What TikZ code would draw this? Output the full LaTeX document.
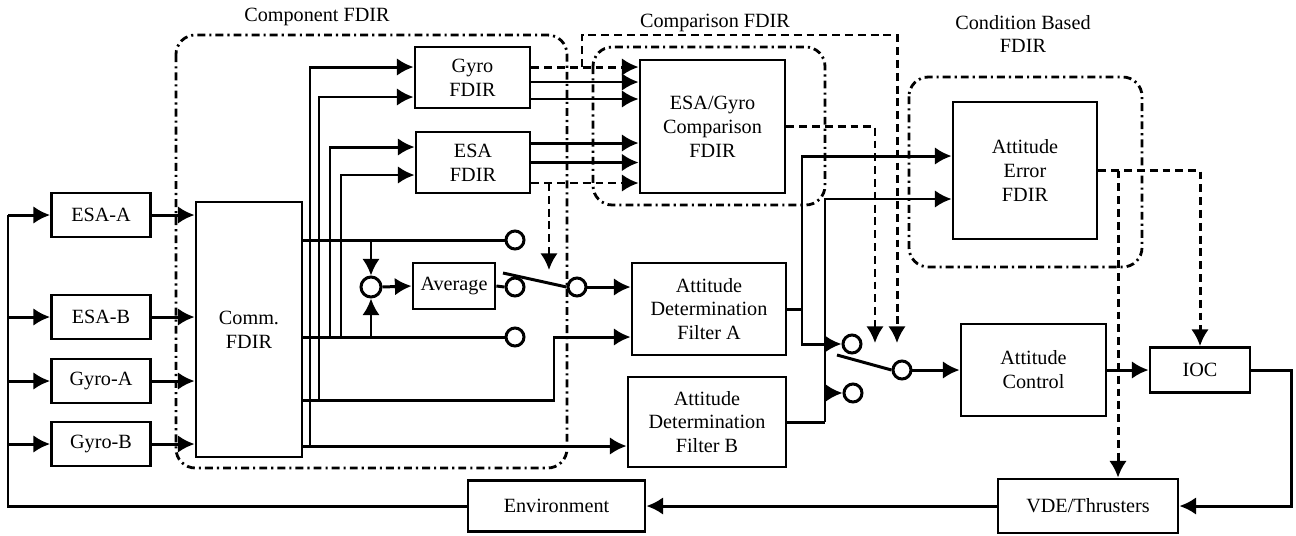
\documentclass[tikz,border=0pt]{standalone}
\usepackage{fontspec}
\setmainfont{Liberation Serif}
\usetikzlibrary{arrows.meta}

\tikzset{
  blk/.style={draw, line width=1.6pt, fill=white, align=center, inner sep=1pt,
    font=\fontsize{11.5}{13.6}\selectfont},
  sens/.style={blk, minimum width=1.98cm, minimum height=0.88cm},
  sw/.style={circle, draw, line width=1.7pt, fill=white, minimum size=0.36cm, inner sep=0pt},
  sig/.style={line width=1.7pt},
  dsh/.style={line width=1.7pt, dash pattern=on 4.5pt off 2.8pt},
  grp/.style={line width=1.6pt, dash pattern=on 4.5pt off 2.3pt on 1.2pt off 2.3pt,
    rounded corners=11pt},
  lbl/.style={align=center, font=\fontsize{11.5}{13.6}\selectfont}
}

\begin{document}
\begin{tikzpicture}[x=0.02cm, y=-0.02cm, >={Latex[length=9.5pt,width=10pt]}]
        \useasboundingbox (0,0) rectangle (1296,535);

        % Zonas FDIR
        \draw[grp] (176,35) rectangle (567,468);
        \draw[grp] (593,47) rectangle (825,205);
        \draw[grp] (909,77) rectangle (1142,267);
        \node[lbl] (lcomp) at (317,17) {Component FDIR};
        \node[lbl] (lcmp) at (715,23) {Comparison FDIR};
        \node[lbl] (lcond) at (1023,34) {Condition Based\\FDIR};

        % Sensores
        \node[sens] (esaA) at (101,215) {ESA-A};
        \node[sens] (esaB) at (101,317) {ESA-B};
        \node[sens] (gyroA) at (101,381) {Gyro-A};
        \node[sens] (gyroB) at (101,444) {Gyro-B};

        % Bloques
        \node[blk, minimum width=2.12cm, minimum height=5.1cm] (comm) at (249,329.5) {Comm.\\FDIR};
        \node[blk, minimum width=2.3cm, minimum height=1.22cm] (gyrof) at (472.5,77.5) {Gyro\\FDIR};
        \node[blk, minimum width=2.28cm, minimum height=1.22cm] (esaf) at (473,162.5) {ESA\\FDIR};
        \node[blk, minimum width=1.64cm, minimum height=0.92cm] (avg) at (454,286) {Average};
        \node[blk, minimum width=2.9cm, minimum height=2.66cm] (cmp) at (712.5,126.5) {ESA/Gyro\\Comparison\\FDIR};
        \node[blk, minimum width=3.08cm, minimum height=1.84cm] (adfa) at (709,309) {Attitude\\Determination\\Filter A};
        \node[blk, minimum width=3.16cm, minimum height=1.8cm] (adfb) at (707,422) {Attitude\\Determination\\Filter B};
        \node[blk, minimum width=2.88cm, minimum height=2.74cm] (aef) at (1025,170.5) {Attitude\\Error\\FDIR};
        \node[blk, minimum width=2.9cm, minimum height=1.84cm] (ctrl) at (1033.5,370) {Attitude\\Control};
        \node[blk, minimum width=2cm, minimum height=0.9cm] (ioc) at (1200,370) {IOC};
        \node[blk, minimum width=3.6cm, minimum height=1.08cm] (vde) at (1088,506) {VDE/Thrusters};
        \node[blk, minimum width=3.54cm, minimum height=1.02cm] (env) at (556.5,506) {Environment};

        % Conmutadores
        \node[sw, minimum size=0.4cm] (sum) at (371,287) {};
        \node[sw] (sw1a) at (515,240) {};
        \node[sw] (sw1b) at (515,287) {};
        \node[sw] (sw1c) at (515,337) {};
        \node[sw] (sw1o) at (577,287) {};
        \node[sw] (sw2a) at (852,344) {};
        \node[sw] (sw2b) at (853,393) {};
        \node[sw] (sw2o) at (902,370) {};

        % Puntos auxiliares
        \coordinate (fb) at (8,506);
        \coordinate (o1) at (302,240);
        \coordinate (o2) at (302,337);
        \coordinate (o3) at (302,400);
        \coordinate (o4) at (302,446);
        \coordinate (t1) at (310,446);
        \coordinate (t2) at (319,400);
        \coordinate (t3) at (330,337);
        \coordinate (t4) at (341,337);
        \coordinate (k3) at (554,400);
        \coordinate (gd) at ([yshift=0.21cm]gyrof.east);
        \coordinate (gs1) at ([yshift=-0.09cm]gyrof.east);
        \coordinate (gs2) at ([yshift=-0.43cm]gyrof.east);
        \coordinate (es1) at ([yshift=0.39cm]esaf.east);
        \coordinate (es2) at (esaf.east);
        \coordinate (ed) at ([yshift=-0.41cm]esaf.east);
        \coordinate (gbr) at (582,67);
        \coordinate (gtop) at (897,35);
        \coordinate (tipC) at (897,343);
        \coordinate (tipB) at (875,343);
        \coordinate (ebr) at (549,183);
        \coordinate (tipA) at (549,270);
        \coordinate (ka) at (802,309);
        \coordinate (kb) at (825,422);
        \coordinate (abr) at (1118,170.5);
        \coordinate (ret) at (1291,506);

        % Lazo del entorno
        \draw[sig] (env.west) -- (fb) -- (fb |- esaA);
        \foreach \s in {esaA,esaB,gyroA,gyroB} {
          \draw[sig,->] (fb |- \s) -- (\s.west);
          \draw[sig,->] (\s.east) -- (\s.east -| comm.west);
        }

        % Salidas de Comm. FDIR
        \draw[sig] (o1) -- (sw1a.west);
        \draw[sig] (o2) -- (sw1c.west);
        \draw[sig,->] (o4) -- (o4 -| adfb.west);
        \draw[sig,->] (o3) -- (k3) -- (k3 |- o2) -- (adfa.west |- o2);
        \draw[sig,->] (t1) |- ([yshift=0.21cm]gyrof.west);
        \draw[sig,->] (t2) |- ([yshift=-0.39cm]gyrof.west);
        \draw[sig,->] (t3) |- ([yshift=0.31cm]esaf.west);
        \draw[sig,->] (t4) |- ([yshift=-0.25cm]esaf.west);

        % Promedio y conmutador 1
        \draw[sig,->] (sum |- o1) -- (sum.north);
        \draw[sig,->] (sum |- o2) -- (sum.south);
        \draw[sig,->] (sum.east) -- (avg.west);
        \draw[sig] (avg.east) -- (sw1b.west);
        \draw[sig] (503,273) -- (sw1o.west);
        \draw[sig,->] (sw1o.east) -- (adfa.west |- sw1o);

        % Hacia la comparacion
        \foreach \p in {gs1,gs2,es1,es2}
          \draw[sig,->] (\p) -- (\p -| cmp.west);
        \draw[dsh,->] (gd) -- (gd -| cmp.west);
        \draw[dsh,->] (ed) -- (ed -| cmp.west);
        \draw[dsh,->] (ebr) -- (tipA);
        \draw[dsh,->] (gbr) |- (gtop) -- (tipC);
        \draw[dsh,->] (cmp.east) -| (tipB);

        % Filtros y conmutador 2
        \draw[sig] (adfa.east) -- (ka);
        \draw[sig] (adfb.east) -- (kb);
        \draw[sig,->] (ka) |- ([yshift=0.29cm]aef.west);
        \draw[sig,->] (kb) |- ([yshift=-0.57cm]aef.west);
        \draw[sig,->] (ka) |- (sw2a.west);
        \draw[sig,->] (kb |- sw2b) -- (sw2b.west);
        \draw[sig] (837,355) -- (sw2o.west);
        \draw[sig,->] (sw2o.east) -- (ctrl.west);

        % Control y actuadores
        \draw[sig,->] (ctrl.east) -- (ioc.west);
        \draw[dsh,->] (aef.east) -| (ioc.north);
        \draw[dsh,->] (abr) -- (abr |- vde.north);
        \draw[sig,->] (ioc.east) -| (ret) -- (vde.east);
        \draw[sig,->] (vde.west) -- (env.east);
    \end{tikzpicture}
\end{document}
